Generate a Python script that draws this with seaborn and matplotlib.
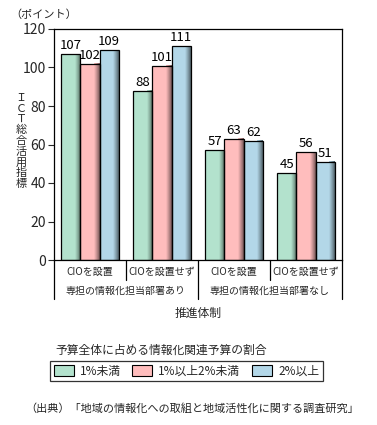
import numpy as np
import pandas as pd
import matplotlib
matplotlib.use("Agg")
import matplotlib.pyplot as plt
import seaborn as sns
from matplotlib.patches import Rectangle, Patch
from matplotlib.colors import LinearSegmentedColormap, to_rgb

sns.set_style("white")
plt.rcParams['font.family'] = ['Noto Sans CJK JP', 'DejaVu Sans']

# ---- data ----
group_keys = ["g1", "g2", "g3", "g4"]
row1_labels = ["CIOを設置", "CIOを設置せず", "CIOを設置", "CIOを設置せず"]
row2_labels = ["専担の情報化担当部署あり", "専担の情報化担当部署なし"]
series_names = ["1%未満", "1%以上2%未満", "2%以上"]
vals_lt1 = [107, 88, 57, 45]
vals_mid = [102, 101, 63, 56]
vals_ge2 = [109, 111, 62, 51]
yticks = [0, 20, 40, 60, 80, 100, 120]
ylabel_text = "ＩＣＴ総合活用指標"
colors = ["#b3e2cd", "#ffbdbd", "#b3d7e8"]

df = pd.DataFrame({
    "group": group_keys * 3,
    "series": [series_names[0]] * 4 + [series_names[1]] * 4 + [series_names[2]] * 4,
    "value": vals_lt1 + vals_mid + vals_ge2,
})

W, H = 377, 425
fig = plt.figure(figsize=(W / 100, H / 100), dpi=100)
ax = fig.add_axes([54 / W, 1 - 260 / H, (342 - 54) / W, (260 - 29) / H])

sns.barplot(data=df, x="group", y="value", hue="series", order=group_keys,
            hue_order=series_names, palette=colors, width=0.8, saturation=1,
            edgecolor="none", linewidth=0, legend=False, ax=ax)

# 3D-like shading on the right side of each bar + outline
for cont, col in zip(ax.containers, colors):
    r, g, b = to_rgb(col)
    cmap = LinearSegmentedColormap.from_list(
        "sh", [(r, g, b), (r * 0.75, g * 0.75, b * 0.75), (r * 0.45, g * 0.45, b * 0.45)])
    grad = np.linspace(0, 1, 32).reshape(1, -1)
    for p in cont.patches:
        x0, w, h = p.get_x(), p.get_width(), p.get_height()
        ax.imshow(grad, extent=[x0 + 0.72 * w, x0 + w, 0, h], aspect="auto",
                  cmap=cmap, zorder=p.get_zorder() + 0.1, interpolation="bilinear")
        ax.add_patch(Rectangle((x0, 0), w, h, fill=False, edgecolor="black",
                               linewidth=0.9, zorder=p.get_zorder() + 0.2))
        ax.text(x0 + w / 2, h + 1.0, f"{int(h)}", ha="center", va="bottom",
                fontsize=9.5, color="black")

ax.set_xlim(-0.5, 3.5)
ax.set_ylim(0, 120)
ax.set_yticks(yticks)
ax.set_yticklabels([str(v) for v in yticks], fontsize=10)
ax.tick_params(axis="y", direction="out", length=4, width=0.8, pad=2, left=True)
ax.set_xticks(range(4))
ax.set_xticklabels(row1_labels, fontsize=7.2)
ax.tick_params(axis="x", length=0, pad=5)
ax.set_xlabel("")
ax.set_ylabel("")
for s in ax.spines.values():
    s.set_visible(True)
    s.set_color("black")
    s.set_linewidth(0.9)

# category separators below axis
tr = ax.get_xaxis_transform()
ph = 260 - 29
row1_bottom = -(280 - 260) / ph
row2_bottom = -(299 - 260) / ph
for xb, yb in [(-0.5, row2_bottom), (0.5, row1_bottom), (1.5, row2_bottom),
               (2.5, row1_bottom), (3.5, row2_bottom)]:
    ax.plot([xb, xb], [0, yb], transform=tr, color="black", lw=0.9, clip_on=False)
for i, lab in enumerate(row2_labels):
    ax.text(0.5 + 2 * i, -(291 - 260) / ph, lab, transform=tr,
            ha="center", va="center", fontsize=7.2)

# axis titles
fig.text(10 / W, 1 - 15 / H, "（ポイント）", fontsize=8, ha="left", va="center")
fig.text(21 / W, 1 - 141 / H, "\n".join(list(ylabel_text)), fontsize=8,
         ha="center", va="center", linespacing=1.09)
fig.text(198 / W, 1 - 313 / H, "推進体制", fontsize=8.5, ha="center", va="center")

# legend
fig.text(55 / W, 1 - 350 / H, "予算全体に占める情報化関連予算の割合", fontsize=8.5,
         ha="left", va="center")
handles = [Patch(facecolor=c, edgecolor="black", linewidth=0.8) for c in colors]
leg = fig.legend(handles, series_names, loc="upper left",
                 bbox_to_anchor=(50 / W, 1 - 361 / H), ncol=3, frameon=True,
                 fancybox=False, fontsize=8.5, handlelength=1.7, handleheight=1.1,
                 handletextpad=0.5, columnspacing=1.0, borderpad=0.3,
                 borderaxespad=0)
leg.get_frame().set_edgecolor("black")
leg.get_frame().set_linewidth(0.9)

fig.text(25 / W, 1 - 408 / H,
         "（出典）「地域の情報化への取組と地域活性化に関する調査研究」",
         fontsize=8, ha="left", va="center")

fig.savefig("out.png", dpi=100)
